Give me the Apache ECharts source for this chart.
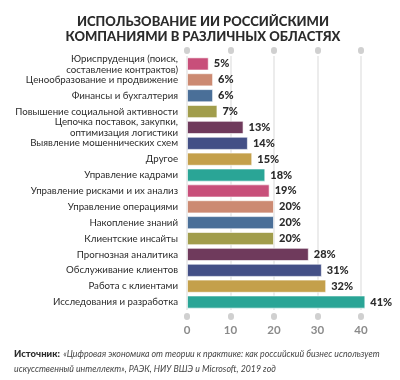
<!DOCTYPE html>
<html><head><meta charset="utf-8">
<script src="https://cdn.jsdelivr.net/npm/echarts@6/dist/echarts.min.js"></script>
<style>html,body{margin:0;padding:0;background:#fff}#c{width:400px;height:380px}</style>
</head><body><div id="c"></div>
<script>
const categories = [
  "Юриспруденция (поиск,\nсоставление контрактов)",
  "Ценообразование и продвижение",
  "Финансы и бухгалтерия",
  "Повышение социальной активности",
  "Цепочка поставок, закупки,\nоптимизация логистики",
  "Выявление мошеннических схем",
  "Другое",
  "Управление кадрами",
  "Управление рисками и их анализ",
  "Управление операциями",
  "Накопление знаний",
  "Клиентские инсайты",
  "Прогнозная аналитика",
  "Обслуживание клиентов",
  "Работа с клиентами",
  "Исследования и разработка"
];
const values = [5, 6, 6, 7, 13, 14, 15, 18, 19, 20, 20, 20, 28, 31, 32, 41];
const palette = ["#c84f7a", "#cc8a72", "#4a6f98", "#a19d4c", "#6f3a5c", "#434f86", "#c4a04b", "#2aa596"];
const xTicks = [0, 10, 20, 30, 40];

const chart = echarts.init(document.getElementById('c'));
chart.setOption({
  animation: false,
  title: {
    text: "ИСПОЛЬЗОВАНИЕ ИИ РОССИЙСКИМИ\nКОМПАНИЯМИ В РАЗЛИЧНЫХ ОБЛАСТЯХ",
    left: 198, top: 9, textAlign: 'center',
    textStyle: {fontFamily: 'Lato', fontWeight: 900, fontSize: 13, lineHeight: 15, color: '#2b2b2b'}
  },
  grid: {left: 187, right: 39, top: 56, bottom: 70},
  xAxis: [
    {
      type: 'value', min: 0, max: 40, interval: 10,
      position: 'bottom', offset: 6,
      axisLine: {show: false},
      axisTick: {show: true, length: 1, lineStyle: {color: '#d0d0d0', width: 6, cap: 'round'}},
      splitLine: {show: true, lineStyle: {color: '#e6e6e6', width: 1.5}},
      axisLabel: {color: '#8a8a8a', fontFamily: 'Lato', fontWeight: 'bold', fontSize: 11.5, margin: 8,
        formatter: v => xTicks.includes(v) ? String(v) : ''}
    },
    {
      type: 'value', min: 0, max: 40, interval: 10,
      position: 'top', offset: 5,
      axisLine: {show: false},
      axisTick: {show: true, length: 1, lineStyle: {color: '#d0d0d0', width: 6, cap: 'round'}},
      splitLine: {show: false},
      axisLabel: {show: false}
    }
  ],
  yAxis: {
    type: 'category', data: categories, inverse: true,
    axisLine: {show: false}, axisTick: {show: false},
    axisLabel: {interval: 0, color: '#2b2b2b', fontFamily: 'Lato', fontSize: 9.7, lineHeight: 11, margin: 9, align: 'right'}
  },
  series: [{
    type: 'bar', xAxisIndex: 0,
    data: values.map((v, i) => ({value: v, itemStyle: {color: palette[i % palette.length]}})),
    barCategoryGap: '17%',
    clip: false,
    itemStyle: {borderColor: 'rgba(255,255,255,0.6)', borderWidth: 1},
    label: {show: true, position: 'right', distance: 5, formatter: p => p.value + '%',
      color: '#2b2b2b', fontFamily: 'Lato', fontWeight: 900, fontSize: 11}
  }, {
    type: 'scatter', xAxisIndex: 1, data: [], silent: true
  }],
  graphic: [{
    type: 'text', left: 14, top: 348,
    style: {
      rich: {
        b: {fontFamily: 'Lato', fontWeight: 900, fontSize: 9.5, fill: '#2b2b2b'},
        i: {fontFamily: 'Lato', fontStyle: 'italic', fontSize: 8.8, fill: '#444', lineHeight: 15}
      },
      text: "{b|Источник:} {i|«Цифровая экономика от теории к практике: как российский бизнес использует}\n{i|искусственный интеллект», РАЭК, НИУ ВШЭ и Microsoft, 2019 год}"
    }
  }]
});
</script></body></html>
